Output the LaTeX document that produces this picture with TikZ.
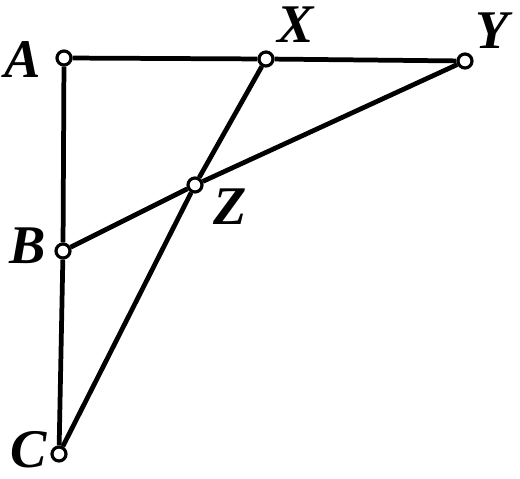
\documentclass[tikz,border=0pt]{standalone}
\usepackage{fontspec}
\setmainfont{Liberation Serif}
\usetikzlibrary{positioning}

\begin{document}
\begin{tikzpicture}[pt/.style={circle,draw=black,fill=white,line width=1.8pt,inner sep=0pt,minimum size=0.28cm}, lbl/.style={font=\fontsize{31}{34}\selectfont\bfseries\itshape,inner sep=0pt}, rod/.style={line width=2.7pt}]
	\useasboundingbox (0,0) rectangle (10.4,-9.56);
	\node[pt] (A) at (1.28,-1.16) {};
	\node[pt] (X) at (5.32,-1.18) {};
	\node[pt] (Y) at (9.30,-1.22) {};
	\node[pt] (Z) at (3.90,-3.70) {};
	\node[pt] (B) at (1.26,-5.02) {};
	\node[pt] (C) at (1.18,-9.08) {};
	\node[lbl] (labA) at (0.46,-1.20) {A};
	\node[lbl] (labX) at (5.92,-0.50) {X};
	\node[lbl] (labY) at (9.84,-0.62) {Y};
	\node[lbl] (labZ) at (4.60,-4.14) {Z};
	\node[lbl] (labB) at (0.56,-4.92) {B};
	\node[lbl] (labC) at (0.58,-9.00) {C};
	\draw[rod] (A) -- (X);
	\draw[rod] (X) -- (Y);
	\draw[rod] (A) -- (B);
	\draw[rod] (B) -- (C);
	\draw[rod] (X) -- (Z);
	\draw[rod] (Z) -- (C);
	\draw[rod] (Y) -- (Z);
	\draw[rod] (Z) -- (B);
\end{tikzpicture}
\end{document}
